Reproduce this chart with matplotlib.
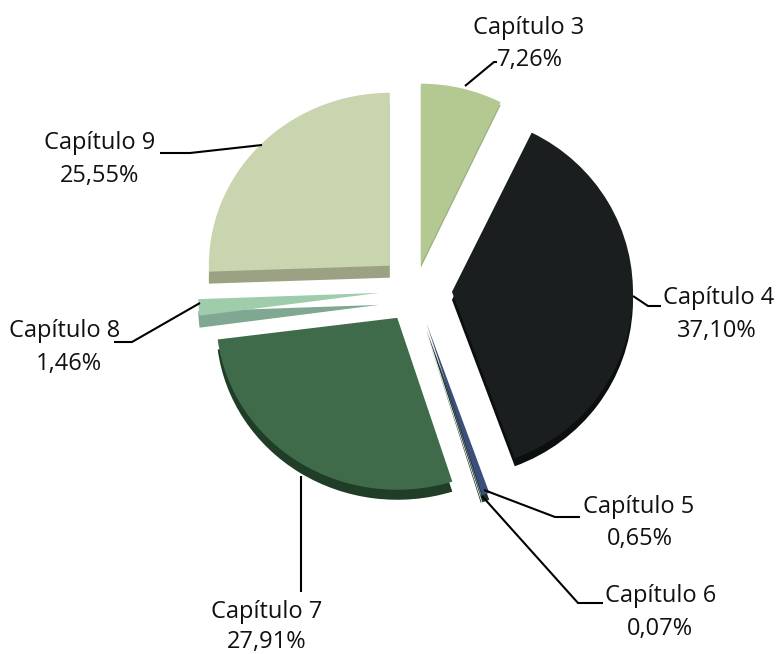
"""Pie de capítulos con porciones separadas y borde inferior oscuro."""
import matplotlib
matplotlib.use("Agg")
import matplotlib.pyplot as plt
from matplotlib.transforms import Affine2D

LABELS = ["Capítulo 3", "Capítulo 4", "Capítulo 5", "Capítulo 6",
          "Capítulo 7", "Capítulo 8", "Capítulo 9"]
VALUES = [7.26, 37.10, 0.65, 0.07, 27.91, 1.46, 25.55]
VALUE_TEXT = ["7,26%", "37,10%", "0,65%", "0,07%", "27,91%", "1,46%", "25,55%"]

COLORS = ["#b4c992", "#1a1e1f", "#3b4f7a", "#8fa0a8", "#3f6b4b", "#9fcdab", "#c9d5ae"]
SIDE_COLORS = ["#9db07e", "#0c0f10", "#1c2e2a", "#1c2e2a", "#1f3d27", "#7fa791", "#9ba284"]
EXPLODE = [26, 37, 35, 35, 33, 36, 35]
DEPTH = [3, 8, 7, 7, 10, 12, 12]    # grosor del borde inferior por porción
SQUASH = [1.0, 0.98, 1.0, 1.0, 0.95, 1.0, 0.955]  # aplastado vertical por porción

W, H = 776, 654
CENTER = (415, H - 290)
RADIUS = 181

# texto: (x, y primera linea, x, y segunda linea), en pixeles desde arriba
LABEL_POS = [(529, 28, 530, 60), (719, 298, 717, 331), (639, 507, 640, 539),
             (661, 596, 660, 629), (267, 612, 267, 642), (65, 331, 69, 364),
             (100, 143, 100, 176)]
LEADERS = [
    ([465, 494, 497], [86, 62, 62]),
    ([633, 648, 661], [296, 306, 306]),
    ([484, 555, 580], [490, 517, 517]),
    ([482, 578, 603], [496, 603, 603]),
    ([301, 301], [476, 592]),
    ([200, 132, 114], [303, 342, 342]),
    ([262, 190, 160], [145, 153, 153]),
]

plt.rcParams["font.family"] = ["Open Sans", "DejaVu Sans"]

fig = plt.figure(figsize=(W / 100, H / 100), dpi=100)
ax = fig.add_axes([0, 0, 1, 1])


def draw_pie(colors, depth=None):
    wedges, _ = ax.pie(VALUES, colors=colors, explode=EXPLODE, startangle=90,
                       counterclock=False, radius=RADIUS, center=CENTER, frame=True)
    for i, w in enumerate(wedges):
        ay = w.center[1]
        tr = Affine2D().translate(0, -ay).scale(1, SQUASH[i]).translate(0, ay)
        if depth:
            tr = tr.translate(0, -depth[i])
        w.set_transform(tr + ax.transData)


# cara lateral (copia desplazada hacia abajo), luego cara superior
draw_pie(SIDE_COLORS, DEPTH)
draw_pie(COLORS)

ax.set_xlim(0, W)
ax.set_ylim(0, H)
ax.set_aspect("equal")
ax.axis("off")

for xs, ys in LEADERS:
    ax.plot(xs, [H - y for y in ys], color="black", lw=1.5, solid_capstyle="butt")

for name, val, (x1, y1, x2, y2) in zip(LABELS, VALUE_TEXT, LABEL_POS):
    ax.text(x1, H - y1, name, fontsize=17, ha="center", va="center", color="#111111")
    ax.text(x2, H - y2, val, fontsize=17, ha="center", va="center", color="#111111")

fig.savefig("out.png", dpi=100)
